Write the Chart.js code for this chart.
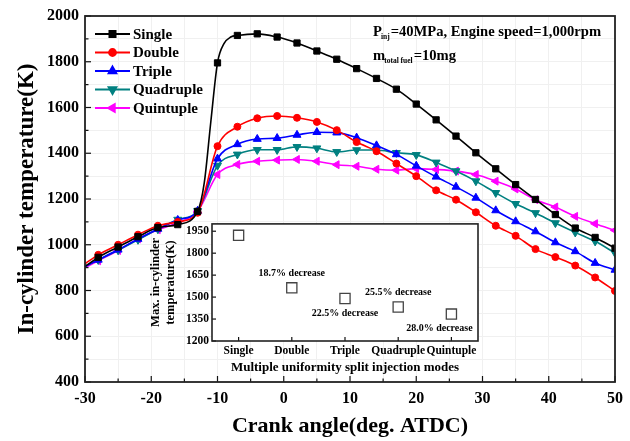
<!DOCTYPE html>
<html>
<head>
<meta charset="utf-8">
<script src="https://cdn.jsdelivr.net/npm/chart.js@4.4.1/dist/chart.umd.min.js"></script>
<style>
  html, body { margin: 0; padding: 0; background: #fff; }
  #wrap { position: relative; width: 630px; height: 441px; }
  #main { position: absolute; left: 0; top: 0; }
  #inset { position: absolute; left: 140px; top: 214px; }
</style>
</head>
<body>
<div id="wrap">
  <canvas id="main" width="630" height="441"></canvas>
  <canvas id="inset" width="350" height="166"></canvas>
</div>
<script>
const SERIF = '"Liberation Serif", "Times New Roman", serif';

// crank angle of each marker (deg. ATDC), the first point has no marker
const angles = [-30, -28, -25, -22, -19, -16, -13, -10, -7, -4, -1, 2, 5, 8, 11, 14, 17, 20, 23, 26, 29, 32, 35, 38, 41, 44, 47, 50];

const single    = [905, 945, 990, 1035, 1075, 1088, 1146, 1795, 1915, 1922, 1908, 1882, 1847, 1811, 1770, 1727, 1680, 1615, 1546, 1475, 1402, 1332, 1263, 1198, 1132, 1073, 1032, 985];
const double    = [917, 956, 1000, 1044, 1083, 1100, 1140, 1431, 1516, 1553, 1563, 1555, 1537, 1501, 1449, 1409, 1355, 1300, 1238, 1197, 1142, 1083, 1039, 981, 946, 909, 857, 798];
const triple    = [905, 934, 978, 1025, 1069, 1108, 1148, 1376, 1439, 1462, 1466, 1480, 1492, 1490, 1468, 1434, 1395, 1345, 1297, 1253, 1205, 1150, 1102, 1058, 1010, 971, 920, 890];
const quadruple = [905, 934, 976, 1022, 1068, 1110, 1148, 1346, 1395, 1415, 1415, 1428, 1422, 1406, 1414, 1414, 1402, 1393, 1360, 1322, 1278, 1227, 1179, 1139, 1095, 1054, 1015, 964];
const quintuple = [900, 930, 975, 1025, 1066, 1096, 1146, 1307, 1351, 1365, 1370, 1373, 1365, 1350, 1343, 1330, 1326, 1333, 1329, 1322, 1307, 1278, 1244, 1197, 1165, 1124, 1092, 1063];

const riseAngles = [-12, -11, -9, -8];
const riseSingle = [1270, 1540, 1880, 1908];

const seriesNames = ['Single', 'Double', 'Triple', 'Quadruple', 'Quintuple'];
const seriesValues = [single, double, triple, quadruple, quintuple];

const xTickLabels = [-30, -20, -10, 0, 10, 20, 30, 40, 50];
const yTickLabels = [400, 600, 800, 1000, 1200, 1400, 1600, 1800, 2000];

// inset: maximum in-cylinder temperature per mode
const insetMax = [1922, 1563, 1490, 1432, 1384];
const insetNotes = ['', '18.7% decrease', '22.5% decrease', '25.5% decrease', '28.0% decrease'];
const insetTickLabels = [1200, 1350, 1500, 1650, 1800, 1950];

const seriesStyle = [
  { color: '#000000', shape: 'rect', rotation: 0, radius: 4.4 },
  { color: '#ff0000', shape: 'circle', rotation: 0, radius: 3.5 },
  { color: '#0000ff', shape: 'triangle', rotation: 0, radius: 4.6 },
  { color: '#008080', shape: 'triangle', rotation: 180, radius: 4.6 },
  { color: '#ff00ff', shape: 'triangle', rotation: 270, radius: 4.6 },
];

function font(size) {
  return { family: SERIF, weight: 'bold', size };
}

function buildPoints(xs, ys, extraXs, extraYs) {
  const pts = xs.map((x, i) => ({ x, y: ys[i], marker: i > 0 }));
  (extraXs || []).forEach((x, i) => pts.push({ x, y: extraYs[i], marker: false }));
  return pts.sort((a, b) => a.x - b.x);
}

function line(ctx, x1, y1, x2, y2) {
  ctx.beginPath();
  ctx.moveTo(x1, y1);
  ctx.lineTo(x2, y2);
  ctx.stroke();
}

// frame round the plot and inward tick marks
const frame = {
  id: 'frame',
  afterDatasetsDraw(chart, args, o) {
    const { ctx, chartArea: a } = chart;
    const xs = chart.scales.x;
    const ys = chart.scales.y;
    ctx.save();
    ctx.strokeStyle = '#111';
    ctx.lineWidth = 1.2;
    xs.ticks.forEach((t, i) => {
      const px = xs.getPixelForTick(i);
      line(ctx, px, a.bottom, px, a.bottom - (t.label !== '' ? o.major : o.minor));
    });
    ys.ticks.forEach((t, i) => {
      const py = ys.getPixelForTick(i);
      line(ctx, a.left, py, a.left + (t.label !== '' ? o.major : o.minor), py);
    });
    ctx.lineWidth = o.width;
    ctx.strokeStyle = '#222';
    ctx.strokeRect(a.left, a.top, a.right - a.left, a.bottom - a.top);
    ctx.restore();
  },
};

const whiteArea = {
  id: 'whiteArea',
  beforeDraw(chart) {
    const { ctx, chartArea: a } = chart;
    ctx.save();
    ctx.fillStyle = '#fff';
    ctx.fillRect(a.left, a.top, a.right - a.left, a.bottom - a.top);
    ctx.restore();
  },
};

// legend with a line and a marker per series
const lineLegend = {
  id: 'lineLegend',
  afterDraw(chart, args, o) {
    const ctx = chart.ctx;
    ctx.save();
    chart.data.datasets.forEach((ds, i) => {
      const y = o.top + i * o.gap;
      ctx.strokeStyle = ds.borderColor;
      ctx.fillStyle = ds.backgroundColor;
      ctx.lineWidth = 1.8;
      line(ctx, o.x0, y, o.x1, y);
      Chart.helpers.drawPoint(ctx, {
        pointStyle: ds.pointStyle,
        rotation: ds.pointRotation,
        radius: ds.markerRadius,
        borderWidth: 1,
      }, (o.x0 + o.x1) / 2, y);
      ctx.fillStyle = '#000';
      ctx.font = `bold ${o.size}px ${SERIF}`;
      ctx.textBaseline = 'middle';
      ctx.fillText(ds.label, o.x1 + 3, y + 1);
    });
    ctx.restore();
  },
};

// text with subscripts, top right of the plot
const conditions = {
  id: 'conditions',
  afterDraw(chart, args, o) {
    const ctx = chart.ctx;
    ctx.save();
    ctx.fillStyle = '#000';
    ctx.textBaseline = 'alphabetic';
    o.lines.forEach((parts, row) => {
      let x = o.x;
      const y = o.y + row * o.gap;
      parts.forEach(([text, sub]) => {
        ctx.font = `bold ${sub ? o.sub : o.size}px ${SERIF}`;
        if (sub) x -= 1;
        ctx.fillText(text, x, y + (sub ? 3 : 0));
        x += ctx.measureText(text).width + (sub ? 1 : 0);
      });
    });
    ctx.restore();
  },
};

const datasets = seriesNames.map((name, i) => {
  const st = seriesStyle[i];
  return {
    label: name,
    data: i === 0 ? buildPoints(angles, single, riseAngles, riseSingle) : buildPoints(angles, seriesValues[i]),
    borderColor: st.color,
    backgroundColor: st.color,
    borderWidth: 1.6,
    pointStyle: st.shape,
    pointRotation: st.rotation,
    markerRadius: st.radius,
    pointRadius: (c) => (c.raw && c.raw.marker ? st.radius : 0),
    pointHoverRadius: 0,
    pointBorderWidth: 1,
    cubicInterpolationMode: 'monotone',
  };
});

new Chart(document.getElementById('main'), {
  type: 'line',
  data: { datasets },
  plugins: [frame, lineLegend, conditions],
  options: {
    responsive: false,
    animation: false,
    devicePixelRatio: 1,
    layout: { padding: { top: 16, right: 15, left: 0, bottom: 0 } },
    plugins: {
      legend: { display: false },
      tooltip: { enabled: false },
      frame: { width: 1.8, major: 6, minor: 3.5 },
      lineLegend: { x0: 95, x1: 130, top: 34, gap: 18.5, size: 15 },
      conditions: {
        x: 373, y: 36, gap: 24, size: 14.6, sub: 7.5,
        lines: [
          [['P'], ['inj', true], ['=40MPa, Engine speed=1,000rpm']],
          [['m'], ['total fuel', true], ['=10mg']],
        ],
      },
    },
    scales: {
      x: {
        type: 'linear',
        min: -30,
        max: 50,
        ticks: {
          stepSize: 5,
          autoSkip: false,
          maxRotation: 0,
          padding: 7,
          color: '#000',
          font: font(16),
          callback: (v) => (xTickLabels.includes(v) ? String(v) : ''),
        },
        grid: { color: '#f0f0f0', drawTicks: false },
        border: { display: false },
        title: { display: true, text: 'Crank angle(deg. ATDC)', color: '#000', font: font(22), padding: { top: 0, bottom: 1 } },
        afterFit: (s) => { s.height = 59; },
      },
      y: {
        min: 400,
        max: 2000,
        ticks: {
          stepSize: 100,
          autoSkip: false,
          padding: 6,
          color: '#000',
          font: font(16),
          callback: (v) => (yTickLabels.includes(v) ? String(v) : ''),
        },
        grid: { color: '#f0f0f0', drawTicks: false },
        border: { display: false },
        title: { display: true, text: 'In-cylinder temperature(K)', color: '#000', font: font(23), padding: { top: 13, bottom: 0 } },
        afterFit: (s) => { s.width = 85; },
      },
    },
  },
});

// notes next to the inset markers
const insetLabels = {
  id: 'insetLabels',
  afterDatasetsDraw(chart, args, o) {
    const ctx = chart.ctx;
    const meta = chart.getDatasetMeta(0);
    ctx.save();
    ctx.fillStyle = '#000';
    ctx.font = `bold ${o.size}px ${SERIF}`;
    ctx.textAlign = 'center';
    ctx.textBaseline = 'middle';
    insetNotes.forEach((t, i) => {
      if (!t) return;
      const pt = meta.data[i];
      ctx.fillText(t, pt.x + o.offsets[i][0], pt.y + o.offsets[i][1]);
    });
    ctx.restore();
  },
};

new Chart(document.getElementById('inset'), {
  type: 'line',
  data: {
    labels: seriesNames,
    datasets: [{
      data: insetMax,
      showLine: false,
      pointStyle: 'rect',
      pointRadius: 7.2,
      pointHoverRadius: 0,
      pointBorderWidth: 1.3,
      borderColor: '#444',
      backgroundColor: '#fff',
    }],
  },
  plugins: [whiteArea, frame, insetLabels],
  options: {
    responsive: false,
    animation: false,
    devicePixelRatio: 1,
    layout: { padding: { top: 9, right: 12, left: 0, bottom: 0 } },
    plugins: {
      legend: { display: false },
      tooltip: { enabled: false },
      frame: { width: 1.6, major: 4, minor: 4 },
      insetLabels: { size: 10, offsets: [[0, 0], [0, -14], [0, 15], [0, -15], [-12, 14]] },
    },
    scales: {
      x: {
        type: 'category',
        offset: true,
        ticks: { padding: 3, color: '#000', font: font(11.5), maxRotation: 0, autoSkip: false },
        grid: { display: false, drawTicks: false },
        border: { display: false },
        title: { display: true, text: 'Multiple uniformity split injection modes', color: '#000', font: font(13), padding: { top: 0, bottom: 5 } },
        afterFit: (s) => { s.height = 39; },
      },
      y: {
        min: 1200,
        max: 2000,
        ticks: {
          stepSize: 150,
          includeBounds: false,
          padding: 3,
          color: '#000',
          font: font(11.5),
          callback: (v) => (insetTickLabels.includes(v) ? String(v) : ''),
        },
        grid: { display: false, drawTicks: false },
        border: { display: false },
        title: { display: true, text: ['Max. in-cylinder', 'temperature(K)'], color: '#000', font: { family: SERIF, weight: 'bold', size: 12.5, lineHeight: 1.2 }, padding: { top: 8, bottom: 0 } },
        afterFit: (s) => { s.width = 72; },
      },
    },
  },
});
</script>
</body>
</html>
